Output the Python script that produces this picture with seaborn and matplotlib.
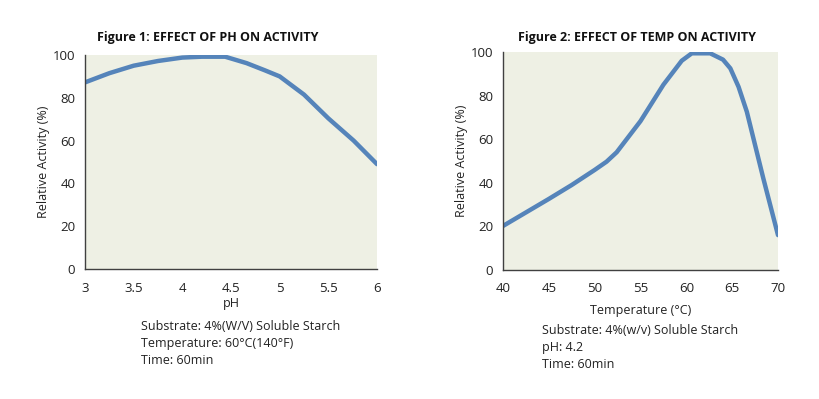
import numpy as np
import pandas as pd
import matplotlib
matplotlib.use("Agg")
import matplotlib.pyplot as plt
import seaborn as sns

ph_values = [3.0, 3.25, 3.5, 3.75, 4.0, 4.2, 4.44, 4.66, 4.85, 5.0, 5.25, 5.5, 5.76, 6.0]
ph_activity = [87.2, 91.5, 95, 97.2, 98.8, 99.2, 99.2, 96.2, 92.8, 90, 81.5, 70.4, 60, 49]

temp_values = [40, 42.5, 45, 47.5, 50, 51.3, 52.4, 55, 57.5, 59.5, 60.6, 62.6, 64, 64.8, 65.7, 66.6, 68.4, 70]
temp_activity = [20.2, 26.4, 32.6, 39, 45.9, 49.7, 54, 68.3, 85, 96, 99.4, 99.4, 96.5, 92.5, 84, 72.6, 42, 16]

ph_ticks = [3, 3.5, 4, 4.5, 5, 5.5, 6]
ph_ticklabels = ["3", "3.5", "4", "4.5", "5", "5.5", "6"]
temp_ticks = [40, 45, 50, 55, 60, 65, 70]
y_ticks = [0, 20, 40, 60, 80, 100]

sns.set_theme(style="white")
plt.rcParams['font.family'] = ['Open Sans', 'DejaVu Sans']

fig = plt.figure(figsize=(8.19, 3.99), dpi=100)
W, H = 819, 399
ax1 = fig.add_axes([85 / W, 130 / H, (377 - 85) / W, (269 - 55) / H])
ax2 = fig.add_axes([503 / W, 129 / H, (778 - 503) / W, (270 - 52) / H])

bg = "#EEF0E4"
line_color = "#5584BA"

df1 = pd.DataFrame({"pH": ph_values, "act": ph_activity})
df2 = pd.DataFrame({"T": temp_values, "act": temp_activity})

sns.lineplot(data=df1, x="pH", y="act", ax=ax1, color=line_color, linewidth=3.2)
sns.lineplot(data=df2, x="T", y="act", ax=ax2, color=line_color, linewidth=3.2)

for ax, xt, xl, xr in [(ax1, ph_ticks, 3, 6), (ax2, temp_ticks, 40, 70)]:
    ax.set_facecolor(bg)
    ax.set_xlim(xl, xr)
    ax.set_ylim(0, 100)
    ax.set_xticks(xt)
    ax.set_yticks(y_ticks)
    for s in ["top", "right"]:
        ax.spines[s].set_visible(False)
    for s in ["left", "bottom"]:
        ax.spines[s].set_color("#404040")
        ax.spines[s].set_linewidth(1.0)
    ax.tick_params(axis="x", direction="in", length=4, color="#404040", labelsize=9.5, pad=9, labelcolor="#222222")
    ax.tick_params(axis="y", direction="out", length=4, color="#404040", labelsize=9.5, pad=3, labelcolor="#222222")
    ax.set_ylabel("Relative Activity (%)", fontsize=9, color="#222222", labelpad=2)

ax1.set_xticklabels(ph_ticklabels)
ax1.set_xlabel("pH", fontsize=9, color="#222222", labelpad=2)
ax2.set_xlabel("Temperature (°C)", fontsize=9, color="#222222", labelpad=6)

fig.text(208 / W, 1 - 37 / H, "Figure 1: EFFECT OF PH ON ACTIVITY", ha="center", va="center",
         fontsize=9, fontweight="bold", color="#111111")
fig.text(637 / W, 1 - 37 / H, "Figure 2: EFFECT OF TEMP ON ACTIVITY", ha="center", va="center",
         fontsize=9, fontweight="bold", color="#111111")

notes1 = ["Substrate: 4%(W/V) Soluble Starch", "Temperature: 60°C(140°F)", "Time: 60min"]
notes2 = ["Substrate: 4%(w/v) Soluble Starch", "pH: 4.2", "Time: 60min"]
for i, t in enumerate(notes1):
    fig.text(141 / W, 1 - (327 + 17 * i) / H, t, ha="left", va="center", fontsize=9, color="#222222")
for i, t in enumerate(notes2):
    fig.text(542 / W, 1 - (330 + 17 * i) / H, t, ha="left", va="center", fontsize=9, color="#222222")

fig.savefig("out.png", dpi=100, facecolor="white")
